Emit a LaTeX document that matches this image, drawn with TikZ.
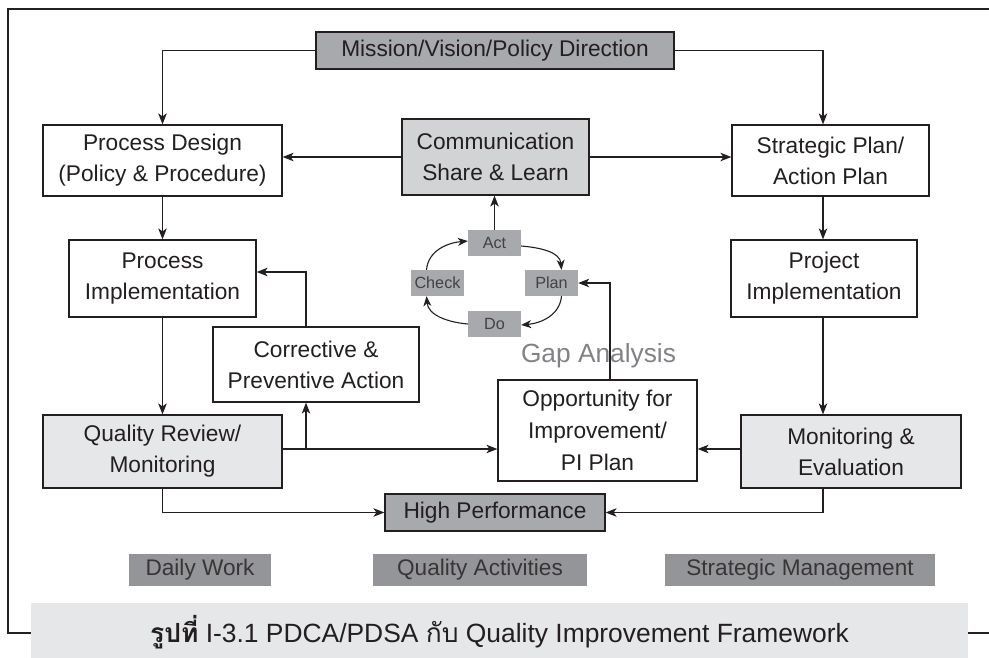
\documentclass[tikz,border=0pt]{standalone}
\usepackage{fontspec}
\setmainfont{Liberation Sans}
\newfontfamily\thaifont[Script=Thai]{Loma}
\usetikzlibrary{arrows.meta,calc}
\definecolor{ink}{HTML}{231F20}
\definecolor{darkfill}{HTML}{A7A9AC}
\definecolor{midfill}{HTML}{D1D3D4}
\definecolor{lightfill}{HTML}{E6E7E8}
\definecolor{labelfill}{HTML}{939598}
\definecolor{gaptext}{HTML}{808285}
\begin{document}
\begin{tikzpicture}[x=1pt,y=-1pt,
  box/.style={draw=ink,line width=1.2pt,inner sep=0pt,align=center,text=ink,
    font=\fontsize{22.7}{31}\selectfont},
  pdca/.style={fill=darkfill,inner sep=0pt,minimum width=53pt,minimum height=26pt,
    text=ink!85,font=\fontsize{16.2}{18}\selectfont},
  tag/.style={fill=labelfill,inner sep=0pt,minimum height=32pt,text=ink!90,
    font=\fontsize{22.6}{26}\selectfont},
  conn/.style={draw=ink,line width=1.2pt,-{Stealth[length=11pt,width=8.5pt,inset=3pt]}},
  cyc/.style={draw=ink,line width=1.1pt,-{Stealth[length=10pt,width=8pt,inset=3pt]}}]
\useasboundingbox (0,0) rectangle (989,658);
% outer frame
\draw[ink,line width=1.2pt] (31,633) -- (8,633) -- (8,9) -- (989,9);
\draw[ink,line width=1.2pt] (968,633) -- (989,633);
% main boxes
\node[box,fill=darkfill,minimum width=358pt,minimum height=37pt] (mission) at (495,50.5) {Mission/Vision/Policy Direction};
\node[box,fill=white,minimum width=239pt,minimum height=71pt] (pd) at (162.5,160.5) {Process Design\\(Policy \& Procedure)};
\node[box,fill=midfill,minimum width=187pt,minimum height=76pt] (comm) at (495.5,157) {Communication\\Share \& Learn};
\node[box,fill=white,minimum width=197pt,minimum height=71pt] (sp) at (830.5,160.5) {Strategic Plan/\\Action Plan};
\node[box,fill=white,minimum width=187pt,minimum height=77pt] (pi) at (162.5,278.5) {Process\\Implementation};
\node[box,fill=white,minimum width=186pt,minimum height=77pt] (proj) at (824,278.5) {Project\\Implementation};
\node[box,fill=white,minimum width=206pt,minimum height=75pt] (cpa) at (316,364.5) {Corrective \&\\Preventive Action};
\node[box,fill=lightfill,minimum width=239pt,minimum height=73pt] (qr) at (162.5,451.5) {Quality Review/\\Monitoring};
\node[box,fill=white,minimum width=199pt,minimum height=101pt,font=\fontsize{22.7}{32}\selectfont] (opp) at (597.5,430.5) {Opportunity for\\Improvement/\\PI Plan};
\node[box,fill=lightfill,minimum width=220pt,minimum height=73pt] (me) at (851,451.5) {Monitoring \&\\Evaluation};
\node[box,fill=darkfill,minimum width=220pt,minimum height=37pt] (hp) at (495,512.5) {High Performance};
% PDCA cycle
\node[pdca] (act) at (494.5,243) {Act};
\node[pdca] (check) at (437.5,283) {Check};
\node[pdca] (plan) at (551.5,283) {Plan};
\node[pdca] (do) at (494.5,324) {Do};
% gap analysis label
\node[text=gaptext,inner sep=0pt,font=\fontsize{26.3}{30}\selectfont] (gap) at (598.5,356) {Gap Analysis};
% bottom tags
\node[tag,minimum width=142pt] (dw) at (200,570) {Daily Work};
\node[tag,minimum width=214pt] (qa) at (480,570) {Quality Activities};
\node[tag,minimum width=270pt] (sm) at (800,570) {Strategic Management};
% caption
\fill[lightfill] (31,603) rectangle (968,660);
\node[inner sep=0pt,text=ink,font=\fontsize{26.4}{30}\selectfont] (cap) at (499.5,632) {{\thaifont\bfseries รูปที่} I-3.1 PDCA/PDSA {\thaifont กับ} Quality Improvement Framework};
% coordinates
\coordinate (sx) at (823,0);
\coordinate (cx) at (306,0);
\coordinate (ox) at (610,0);
% connectors
\draw[conn] (mission.west) -| (pd.north);
\draw[conn] (mission.east) -| (sx |- sp.north);
\draw[conn] (comm.west) -- (comm.west -| pd.east);
\draw[conn] (comm.east) -- (comm.east -| sp.west);
\draw[conn] (pd.south) -- (pi.north);
\draw[conn] (sx |- sp.south) -- (sx |- proj.north);
\draw[conn] (pi.south) -- (qr.north);
\draw[conn] (sx |- proj.south) -- (sx |- me.north);
\coordinate (qre) at ([yshift=2.5pt]qr.east);
\coordinate (br) at (cx |- qre);
\draw[conn] (qre) -- (qre -| opp.west);
\draw[conn] (br) -- (cx |- cpa.south);
\coordinate (pie) at ([yshift=6.5pt]pi.east);
\draw[conn] (cx |- cpa.north) |- (pie);
\coordinate (mew) at ([yshift=2.5pt]me.west);
\draw[conn] (mew) -- (mew -| opp.east);
\draw[conn] (ox |- opp.north) |- (plan.east);
\draw[conn] (qr.south) |- (hp.west);
\draw[conn] (sx |- me.south) |- (hp.east);
\draw[conn] (act.north) -- (act.north |- comm.south);
% cycle arrows
\draw[cyc] ([yshift=-3pt]act.east) to[out=-5,in=95] ([xshift=10pt]plan.north);
\draw[cyc] ([xshift=10pt]plan.south) to[out=-95,in=5] ([yshift=-1pt]do.east);
\draw[cyc] ([yshift=0pt]do.west) to[out=175,in=-85] ([xshift=-11pt]check.south);
\draw[cyc] ([xshift=-11pt]check.north) to[out=85,in=185] ([yshift=2pt]act.west);
\end{tikzpicture}
\end{document}
